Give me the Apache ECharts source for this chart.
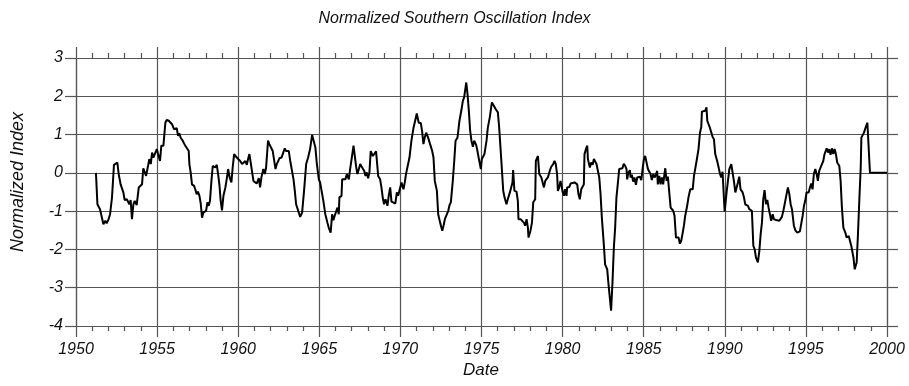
<!DOCTYPE html>
<html>
<head>
<meta charset="utf-8">
<script src="https://cdn.jsdelivr.net/npm/echarts@6/dist/echarts.min.js"></script>
<style>
  html, body { margin: 0; padding: 0; background: #fff; }
  #chart { width: 909px; height: 386px; }
</style>
</head>
<body>
<div id="chart"></div>
<script>
// Smoothed, normalized Southern Oscillation Index (decimal year, index value)
const years = [
  1951.23, 1951.32, 1951.48, 1951.69, 1951.81, 1951.89, 1952.01, 1952.10, 1952.22, 1952.34,
  1952.43, 1952.55, 1952.63, 1952.75, 1952.84, 1952.92, 1953.00, 1953.13, 1953.21, 1953.29,
  1953.37, 1953.45, 1953.54, 1953.62, 1953.74, 1953.87, 1953.95, 1954.07, 1954.15, 1954.24,
  1954.32, 1954.44, 1954.52, 1954.61, 1954.69, 1954.77, 1954.85, 1954.98, 1955.06, 1955.18,
  1955.26, 1955.39, 1955.51, 1955.59, 1955.72, 1955.80, 1955.92, 1956.04, 1956.13, 1956.21,
  1956.29, 1956.37, 1956.46, 1956.58, 1956.66, 1956.74, 1956.83, 1956.95, 1956.99, 1957.07,
  1957.15, 1957.28, 1957.36, 1957.44, 1957.52, 1957.61, 1957.69, 1957.77, 1957.85, 1957.94,
  1958.02, 1958.10, 1958.18, 1958.26, 1958.35, 1958.43, 1958.51, 1958.59, 1958.68, 1958.76,
  1958.84, 1958.92, 1959.00, 1959.09, 1959.21, 1959.29, 1959.38, 1959.46, 1959.58, 1959.66,
  1959.75, 1959.83, 1959.91, 1960.03, 1960.12, 1960.24, 1960.36, 1960.44, 1960.53, 1960.61,
  1960.69, 1960.77, 1960.86, 1960.94, 1961.02, 1961.14, 1961.27, 1961.35, 1961.43, 1961.55,
  1961.64, 1961.72, 1961.84, 1961.92,
  1962.13, 1962.30, 1962.38, 1962.54, 1962.67, 1962.79, 1962.87, 1962.95, 1963.04, 1963.12,
  1963.20, 1963.28, 1963.41, 1963.49, 1963.57, 1963.69, 1963.82, 1963.94, 1964.06, 1964.19,
  1964.31, 1964.43, 1964.56, 1964.68, 1964.76, 1964.84, 1964.97, 1965.05, 1965.13, 1965.25,
  1965.37, 1965.50, 1965.58, 1965.70, 1965.79, 1965.87, 1965.95, 1966.03, 1966.12, 1966.20,
  1966.24, 1966.37, 1966.41, 1966.53, 1966.61, 1966.70, 1966.82, 1966.90, 1967.02, 1967.11,
  1967.19, 1967.27, 1967.35, 1967.44, 1967.52, 1967.64, 1967.77, 1967.85, 1967.93, 1968.01,
  1968.09, 1968.17, 1968.30, 1968.42, 1968.50, 1968.63, 1968.75, 1968.83, 1968.91, 1968.99,
  1969.08, 1969.20, 1969.28, 1969.37, 1969.45, 1969.57, 1969.69, 1969.78, 1969.86, 1969.94,
  1970.07, 1970.19, 1970.27, 1970.35, 1970.44, 1970.56, 1970.68, 1970.81, 1970.93, 1971.01,
  1971.13, 1971.26, 1971.34, 1971.42, 1971.50, 1971.59, 1971.71, 1971.83, 1971.96, 1972.04,
  1972.12, 1972.25, 1972.33, 1972.45, 1972.58, 1972.66, 1972.74, 1972.86, 1972.95, 1973.03,
  1973.11, 1973.23, 1973.32, 1973.40, 1973.52, 1973.60, 1973.64, 1973.77, 1973.85, 1973.93,
  1974.06, 1974.14, 1974.22, 1974.30, 1974.38, 1974.47, 1974.55, 1974.67, 1974.75, 1974.84,
  1974.96,
  1975.02, 1975.18, 1975.31, 1975.39, 1975.51, 1975.64, 1975.76, 1975.88, 1976.01, 1976.09,
  1976.17, 1976.25, 1976.34, 1976.42, 1976.54, 1976.62, 1976.75, 1976.83, 1976.91, 1976.95,
  1977.03, 1977.16, 1977.24, 1977.28, 1977.41, 1977.49, 1977.61, 1977.69, 1977.78, 1977.86,
  1977.90, 1978.02, 1978.11, 1978.19, 1978.31, 1978.35, 1978.48, 1978.56, 1978.69, 1978.77,
  1978.85, 1978.93, 1979.01, 1979.09, 1979.21, 1979.30, 1979.42, 1979.50, 1979.58, 1979.66,
  1979.71, 1979.79, 1979.87, 1979.95, 1979.99, 1980.08, 1980.16, 1980.24, 1980.28, 1980.41,
  1980.49, 1980.61, 1980.74, 1980.82, 1980.90, 1980.98, 1981.06, 1981.15, 1981.23, 1981.31,
  1981.35, 1981.44, 1981.52, 1981.56, 1981.68, 1981.76, 1981.85, 1981.93, 1982.01, 1982.09,
  1982.17, 1982.26, 1982.34, 1982.42, 1982.54, 1982.62, 1982.75, 1982.83, 1982.91, 1982.99,
  1983.08, 1983.16, 1983.24, 1983.32, 1983.40, 1983.49, 1983.57, 1983.69, 1983.77, 1983.86,
  1983.94, 1983.98, 1984.06, 1984.15, 1984.19, 1984.27, 1984.35, 1984.43, 1984.52, 1984.60,
  1984.68, 1984.76, 1984.85, 1984.93, 1985.01, 1985.09, 1985.18, 1985.26, 1985.34, 1985.42,
  1985.50, 1985.59, 1985.67, 1985.75, 1985.83, 1985.87, 1985.96, 1986.04, 1986.12, 1986.20,
  1986.28, 1986.33, 1986.41, 1986.49, 1986.57, 1986.66, 1986.74, 1986.82, 1986.90, 1986.99,
  1987.07, 1987.15, 1987.23, 1987.31, 1987.39, 1987.48, 1987.56, 1987.68, 1987.76, 1987.87,
  1987.93, 1988.02, 1988.10, 1988.18, 1988.26, 1988.38, 1988.47, 1988.55, 1988.59, 1988.71,
  1988.79, 1988.87, 1988.92, 1989.00, 1989.08, 1989.17, 1989.25, 1989.33, 1989.41, 1989.53,
  1989.62, 1989.70, 1989.78, 1989.86, 1989.99, 1990.11, 1990.19, 1990.28, 1990.40, 1990.48,
  1990.56, 1990.65, 1990.73, 1990.81, 1990.89, 1990.97, 1991.10, 1991.18, 1991.26, 1991.34,
  1991.43, 1991.51, 1991.59, 1991.67, 1991.76, 1991.84, 1991.92, 1992.04, 1992.13, 1992.21,
  1992.29, 1992.37, 1992.45, 1992.54, 1992.62, 1992.70, 1992.78, 1992.86, 1992.95, 1993.03,
  1993.11, 1993.23, 1993.36, 1993.48, 1993.52, 1993.61, 1993.69, 1993.77, 1993.89, 1993.98,
  1994.06, 1994.14, 1994.18, 1994.26, 1994.35, 1994.47, 1994.55, 1994.63, 1994.71, 1994.80,
  1994.88, 1994.96, 1995.04, 1995.17, 1995.25, 1995.33, 1995.41, 1995.49, 1995.58, 1995.66,
  1995.74, 1995.82, 1995.91, 1995.99, 1996.07, 1996.15, 1996.28, 1996.36, 1996.44, 1996.52,
  1996.60, 1996.69, 1996.77, 1996.85, 1996.93, 1997.06, 1997.14, 1997.22, 1997.31, 1997.43,
  1997.51, 1997.64, 1997.72, 1997.80, 1997.93, 1998.01, 1998.13, 1998.21, 1998.30, 1998.38,
  1998.42, 1998.50, 1998.58, 1998.67, 1998.79, 1998.83, 1998.95, 2000.00
];

const soi = [
  0.00, -0.82, -0.95, -1.34, -1.25, -1.32, -1.21, -1.08, -0.64, 0.21,
  0.16, 0.27, -0.03, -0.30, -0.25, -0.51, -0.71, -0.69, -0.73, -0.82,
  -0.71, -1.21, -0.82, -0.73, -0.84, -0.38, -0.34, -0.30, 0.12, 0.10,
  -0.08, 0.18, 0.36, 0.23, 0.53, 0.40, 0.44, 0.62, 0.49, 0.31,
  0.71, 0.71, 1.31, 1.38, 1.36, 1.34, 1.27, 1.14, 1.11, 1.17,
  0.97, 1.03, 0.91, 0.84, 0.77, 0.71, 0.66, 0.57, 0.23, 0.01,
  -0.30, -0.34, -0.44, -0.56, -0.49, -0.60, -0.80, -1.17, -1.04, -1.06,
  -0.99, -0.77, -0.86, -0.73, -0.21, 0.18, 0.23, 0.14, 0.21, -0.03,
  -0.30, -0.73, -0.98, -0.60, -0.38, -0.17, 0.10, -0.10, -0.25, 0.14,
  0.49, 0.44, 0.40, 0.42, 0.31, 0.23, 0.27, 0.31, 0.21, 0.36,
  0.49, 0.27, 0.31, -0.21, -0.25, -0.28, -0.14, -0.38, -0.12, 0.10,
  -0.03, 0.14, 0.84, 0.75,
  0.57, 0.10, 0.23, 0.38, 0.40, 0.40, 0.64, 0.57, 0.62, 0.57,
  0.33, 0.14, -0.17, -0.47, -0.82, -0.77, -1.15, -1.04, -0.47, 0.23,
  0.40, 0.62, 0.99, 0.95, 0.66, 0.27, -0.17, -0.25, -0.30, -0.73,
  -1.08, -1.30, -1.43, -1.56, -1.08, -1.24, -1.12, -1.17, -0.91, -1.08,
  -0.64, -0.60, -0.17, -0.12, -0.17, -0.03, -0.17, 0.10, 0.44, 0.71,
  0.44, 0.16, -0.03, 0.10, 0.23, 0.14, 0.05, -0.08, 0.01, -0.14,
  0.01, 0.57, 0.44, 0.44, 0.56, -0.08, -0.17, -0.38, -0.64, -0.82,
  -0.69, -0.86, -0.60, -0.38, -0.75, -0.77, -0.80, -0.51, -0.60, -0.64,
  -0.25, -0.43, -0.25, -0.02, 0.03, 0.40, 0.84, 1.18, 1.40, 1.55,
  1.31, 1.30, 1.08, 0.75, 0.92, 1.05, 0.92, 0.75, 0.57, 0.40,
  -0.21, -0.47, -1.08, -1.30, -1.51, -1.38, -1.21, -1.17, -0.99, -0.84,
  -0.77, -0.21, 0.31, 0.84, 0.92, 0.92, 1.36, 1.66, 1.88, 1.97,
  2.36, 2.05, 1.62, 1.10, 0.84, 0.68, 0.84, 0.73, 0.57, 0.36,
  0.10,
  0.36, 0.49, 0.84, 1.18, 1.45, 1.84, 1.75, 1.66, 1.58, 1.18,
  0.66, 0.14, -0.47, -0.64, -0.82, -0.69, -0.51, -0.38, -0.25, 0.07,
  -0.47, -0.49, -0.73, -1.21, -1.21, -1.17, -1.30, -1.38, -1.21, -1.43,
  -1.69, -1.51, -1.30, -0.77, -0.69, 0.31, 0.44, -0.03, -0.12, -0.25,
  -0.38, -0.21, -0.21, -0.12, 0.05, 0.16, 0.23, 0.31, 0.23, -0.03,
  -0.47, -0.38, -0.21, -0.38, -0.47, -0.60, -0.43, -0.60, -0.38, -0.37,
  -0.28, -0.26, -0.25, -0.28, -0.30, -0.56, -0.69, -0.43, -0.38, -0.30,
  0.49, 0.62, 0.71, 0.36, 0.14, 0.27, 0.21, 0.36, 0.40, 0.23,
  0.18, -0.12, -0.56, -1.17, -1.86, -2.39, -2.52, -2.91, -3.26, -3.60,
  -2.82, -1.95, -1.43, -0.64, -0.30, 0.10, 0.05, 0.12, 0.24, 0.18,
  0.10, -0.17, 0.01, 0.07, -0.12, -0.05, -0.23, -0.12, -0.31, -0.12,
  -0.08, -0.10, -0.19, 0.10, 0.36, 0.44, 0.40, 0.10, 0.12, -0.03,
  -0.19, -0.03, -0.12, -0.05, 0.05, -0.30, -0.08, -0.30, -0.12, -0.30,
  -0.03, 0.12, -0.21, -0.10, -0.08, -0.91, -0.89, -0.99, -1.12, -1.69,
  -1.73, -1.69, -1.85, -1.78, -1.60, -1.38, -1.12, -0.86, -0.64, -0.43,
  -0.38, -0.43, -0.08, -0.12, 0.31, 0.62, 1.05, 1.20, 1.60, 1.58,
  1.62, 1.71, 1.36, 1.27, 1.18, 1.14, 0.94, 0.88, 0.49, 0.31,
  0.14, -0.02, -0.12, 0.03, -1.01, -0.51, -0.49, 0.10, 0.23, 0.01,
  -0.21, -0.51, -0.38, -0.25, -0.10, -0.43, -0.51, -0.64, -0.82, -0.77,
  -0.86, -0.95, -0.99, -0.99, -1.91, -1.99, -2.21, -2.34, -2.04, -1.60,
  -1.30, -0.69, -0.45, -0.82, -0.71, -0.91, -1.08, -1.25, -1.08, -1.21,
  -1.24, -1.24, -1.25, -1.25, -1.15, -0.99, -0.82, -0.64, -0.38, -0.56,
  -0.82, -0.95, -0.99, -1.38, -1.50, -1.56, -1.52, -1.53, -1.52, -1.12,
  -0.86, -0.73, -0.51, -0.51, -0.38, -0.28, -0.43, -0.03, 0.10, -0.03,
  -0.21, 0.05, 0.01, 0.23, 0.31, 0.49, 0.64, 0.53, 0.62, 0.47,
  0.64, 0.49, 0.62, 0.49, 0.27, 0.18, -0.21, -0.91, -1.43, -1.56,
  -1.69, -1.65, -1.78, -1.91, -2.21, -2.52, -2.34, -1.60, -0.64, 0.14,
  0.92, 0.97, 1.05, 1.17, 1.31, 1.31, 0.00, 0.00
];

const xTickStep = 5;
const yTicks = [-4, -3, -2, -1, 0, 1, 2, 3];

const FONT = '"Liberation Sans", Arial, Helvetica, sans-serif';
const INK = '#111';
const RULE = '#555';

const seriesData = years.map((y, i) => [y, soi[i]]);

const chart = echarts.init(document.getElementById('chart'), null, { renderer: 'canvas' });

const ruleStyle = { color: RULE, width: 1.2 };

function xAxisDef(position, withLabels) {
  return {
    type: 'value',
    position: position,
    min: 1950,
    max: 2000,
    interval: xTickStep,
    axisLine: { show: true, onZero: false, lineStyle: ruleStyle },
    axisTick: { show: true, inside: false, length: 11, lineStyle: ruleStyle },
    minorTick: { show: true, splitNumber: 5, length: 5, lineStyle: ruleStyle },
    splitLine: { show: withLabels, lineStyle: ruleStyle },
    minorSplitLine: { show: false },
    axisLabel: {
      show: withLabels,
      margin: 16,
      formatter: (v) => String(v),
      fontFamily: FONT,
      fontStyle: 'italic',
      fontSize: 16,
      color: INK
    }
  };
}

function yAxisDef(position, withLabels) {
  return {
    type: 'value',
    position: position,
    min: yTicks[0],
    max: yTicks[yTicks.length - 1],
    interval: 1,
    axisLine: { show: true, onZero: false, lineStyle: ruleStyle },
    axisTick: { show: true, inside: false, length: 11, lineStyle: ruleStyle },
    splitLine: { show: withLabels, lineStyle: ruleStyle },
    axisLabel: {
      show: withLabels,
      margin: 13,
      fontFamily: FONT,
      fontStyle: 'italic',
      fontSize: 16,
      color: INK
    }
  };
}

chart.setOption({
  animation: false,
  backgroundColor: '#fff',
  grid: { left: 76, right: 22, top: 58, bottom: 60, containLabel: false },
  xAxis: [xAxisDef('bottom', true), xAxisDef('top', false)],
  yAxis: [yAxisDef('left', true), yAxisDef('right', false)],
  graphic: [
    {
      type: 'text',
      left: 'center',
      top: 11,
      style: {
        text: 'Normalized Southern Oscillation Index',
        fontFamily: FONT,
        fontStyle: 'italic',
        fontSize: 16,
        fill: INK
      }
    },
    {
      type: 'text',
      x: 481,
      y: 370,
      style: {
        text: 'Date',
        fontFamily: FONT,
        fontStyle: 'italic',
        fontSize: 17,
        fill: INK,
        align: 'center',
        verticalAlign: 'middle'
      }
    },
    {
      type: 'text',
      x: 18,
      y: 182,
      rotation: Math.PI / 2,
      style: {
        text: 'Normalized Index',
        fontFamily: FONT,
        fontStyle: 'italic',
        fontSize: 18,
        fill: INK,
        align: 'center',
        verticalAlign: 'middle'
      }
    }
  ],
  series: [
    {
      type: 'line',
      xAxisIndex: 0,
      yAxisIndex: 0,
      data: seriesData,
      showSymbol: false,
      symbol: 'none',
      lineStyle: { color: '#000', width: 2 },
      silent: true
    }
  ]
});
</script>
</body>
</html>
